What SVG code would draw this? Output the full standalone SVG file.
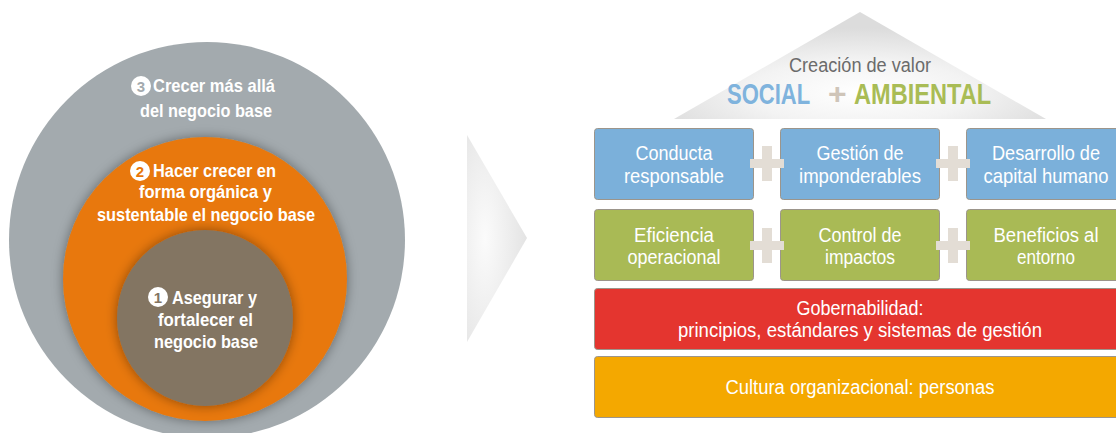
<svg xmlns="http://www.w3.org/2000/svg" width="1116" height="433" viewBox="0 0 1116 433">
<defs>
<radialGradient id="gRoof" cx="0.5" cy="0.75" r="0.6">
<stop offset="0" stop-color="#ffffff"/>
<stop offset="0.5" stop-color="#f3f3f3"/>
<stop offset="1" stop-color="#dcdcdc"/>
</radialGradient>
<radialGradient id="gArrow" cx="0.3" cy="0.5" r="0.8">
<stop offset="0" stop-color="#fbfbfb"/>
<stop offset="1" stop-color="#e0e0e0"/>
</radialGradient>
<filter id="shadow" x="-20%" y="-20%" width="140%" height="140%">
<feDropShadow dx="0" dy="0" stdDeviation="6" flood-color="#000" flood-opacity="0.4"/>
</filter>
</defs>
<style>
.ct{font-family:"Liberation Sans",Arial,sans-serif;font-weight:bold;font-size:19px;fill:#fff;}
.num{font-family:"Liberation Sans",Arial,sans-serif;font-weight:bold;font-size:15px;text-anchor:middle;}
.bt{font-family:"Liberation Sans",Arial,sans-serif;font-size:20px;fill:#fff;text-anchor:middle;}
.rt{font-family:"Liberation Sans",Arial,sans-serif;font-weight:bold;font-size:29px;}
.box{stroke:#9c958b;stroke-width:1;}
.plus{fill:#e3ddd5;}
</style>
<rect width="1116" height="433" fill="#fff"/>

<g id="circle3">
<circle cx="207" cy="240" r="198" fill="#a3aaae"/>
<circle cx="141" cy="86" r="10" fill="#fff"/>
<text class="num" x="141" y="91.5" fill="#a3aaae">3</text>
<text class="ct" x="153" y="92" textLength="122" lengthAdjust="spacingAndGlyphs">Crecer más allá</text>
<text class="ct" x="140" y="117" textLength="132" lengthAdjust="spacingAndGlyphs">del negocio base</text>
</g>

<g id="circle2">
<circle cx="205" cy="279" r="142" fill="#e8780a" filter="url(#shadow)"/>
<circle cx="140" cy="171" r="10" fill="#fff"/>
<text class="num" x="140" y="176.5" fill="#e8780a">2</text>
<text class="ct" x="153" y="177" textLength="123" lengthAdjust="spacingAndGlyphs">Hacer crecer en</text>
<text class="ct" x="139" y="198" textLength="133" lengthAdjust="spacingAndGlyphs">forma orgánica y</text>
<text class="ct" x="97" y="221" textLength="218" lengthAdjust="spacingAndGlyphs">sustentable el negocio base</text>
</g>

<g id="circle1">
<circle cx="205" cy="318" r="88" fill="#837462" filter="url(#shadow)"/>
<circle cx="158" cy="297" r="10" fill="#fff"/>
<text class="num" x="158" y="302.5" fill="#837462">1</text>
<text class="ct" x="172" y="304" textLength="85" lengthAdjust="spacingAndGlyphs">Asegurar y</text>
<text class="ct" x="158" y="326" textLength="95" lengthAdjust="spacingAndGlyphs">fortalecer el</text>
<text class="ct" x="154" y="348" textLength="104" lengthAdjust="spacingAndGlyphs">negocio base</text>
</g>

<g id="arrow">
<polygon points="467,135 527,238 467,342" fill="url(#gArrow)"/>
</g>

<g id="roof">
<polygon points="860,12 674,119 1046,119" fill="url(#gRoof)"/>
<text x="789" y="72" textLength="142" lengthAdjust="spacingAndGlyphs" style="font-family:'Liberation Sans',Arial,sans-serif;font-size:20px;fill:#6b6b6b">Creación de valor</text>
<text class="rt" transform="translate(727,104) scale(0.76,1)" fill="#7fb3dd">SOCIAL</text>
<text class="rt" transform="translate(828,104) scale(1.1,1)" fill="#cfc5b9">+</text>
<text class="rt" transform="translate(854,104) scale(0.814,1)" fill="#a9bc55">AMBIENTAL</text>
</g>

<g id="b1">
<rect class="box" x="594.5" y="128.5" width="159" height="71" rx="3" fill="#7bb0da"/>
<text class="bt" x="674" y="160" textLength="77" lengthAdjust="spacingAndGlyphs">Conducta</text>
<text class="bt" x="674" y="183" textLength="100" lengthAdjust="spacingAndGlyphs">responsable</text>
</g>
<g id="b2">
<rect class="box" x="780.5" y="128.5" width="159" height="71" rx="3" fill="#7bb0da"/>
<text class="bt" x="860" y="160" textLength="87" lengthAdjust="spacingAndGlyphs">Gestión de</text>
<text class="bt" x="860" y="183" textLength="122" lengthAdjust="spacingAndGlyphs">imponderables</text>
</g>
<g id="b3">
<rect class="box" x="966.5" y="128.5" width="159" height="71" rx="3" fill="#7bb0da"/>
<text class="bt" x="1046" y="160" textLength="108" lengthAdjust="spacingAndGlyphs">Desarrollo de</text>
<text class="bt" transform="translate(1046,183) scale(0.922,1)">capital humano</text>
</g>
<g id="b4">
<rect class="box" x="594.5" y="209.5" width="159" height="71" rx="3" fill="#a9ba55"/>
<text class="bt" x="674" y="242" textLength="80" lengthAdjust="spacingAndGlyphs">Eficiencia</text>
<text class="bt" x="674" y="264" textLength="93" lengthAdjust="spacingAndGlyphs">operacional</text>
</g>
<g id="b5">
<rect class="box" x="780.5" y="209.5" width="159" height="71" rx="3" fill="#a9ba55"/>
<text class="bt" x="860" y="242" textLength="83" lengthAdjust="spacingAndGlyphs">Control de</text>
<text class="bt" x="860" y="264" textLength="70" lengthAdjust="spacingAndGlyphs">impactos</text>
</g>
<g id="b6">
<rect class="box" x="966.5" y="209.5" width="159" height="71" rx="3" fill="#a9ba55"/>
<text class="bt" x="1046" y="242" textLength="105" lengthAdjust="spacingAndGlyphs">Beneficios al</text>
<text class="bt" x="1046" y="264" textLength="58" lengthAdjust="spacingAndGlyphs">entorno</text>
</g>
<g id="gobernabilidad">
<rect class="box" x="594.5" y="288.5" width="531" height="61" rx="3" fill="#e4352f"/>
<text class="bt" x="860" y="315" textLength="127" lengthAdjust="spacingAndGlyphs">Gobernabilidad:</text>
<text class="bt" x="860" y="337" textLength="364" lengthAdjust="spacingAndGlyphs">principios, estándares y sistemas de gestión</text>
</g>
<g id="cultura">
<rect class="box" x="594.5" y="356.5" width="531" height="61" rx="3" fill="#f4a800"/>
<text class="bt" x="860" y="394" textLength="269" lengthAdjust="spacingAndGlyphs">Cultura organizacional: personas</text>
</g>

<g id="connectors">
<path class="plus" d="M750,159h12v-13h10v13h12v9h-12v13h-10v-13h-12z"/>
<path class="plus" d="M936,159h12v-13h10v13h12v9h-12v13h-10v-13h-12z"/>
<path class="plus" d="M750,241h12v-13h10v13h12v9h-12v13h-10v-13h-12z"/>
<path class="plus" d="M936,241h12v-13h10v13h12v9h-12v13h-10v-13h-12z"/>
</g>
</svg>
